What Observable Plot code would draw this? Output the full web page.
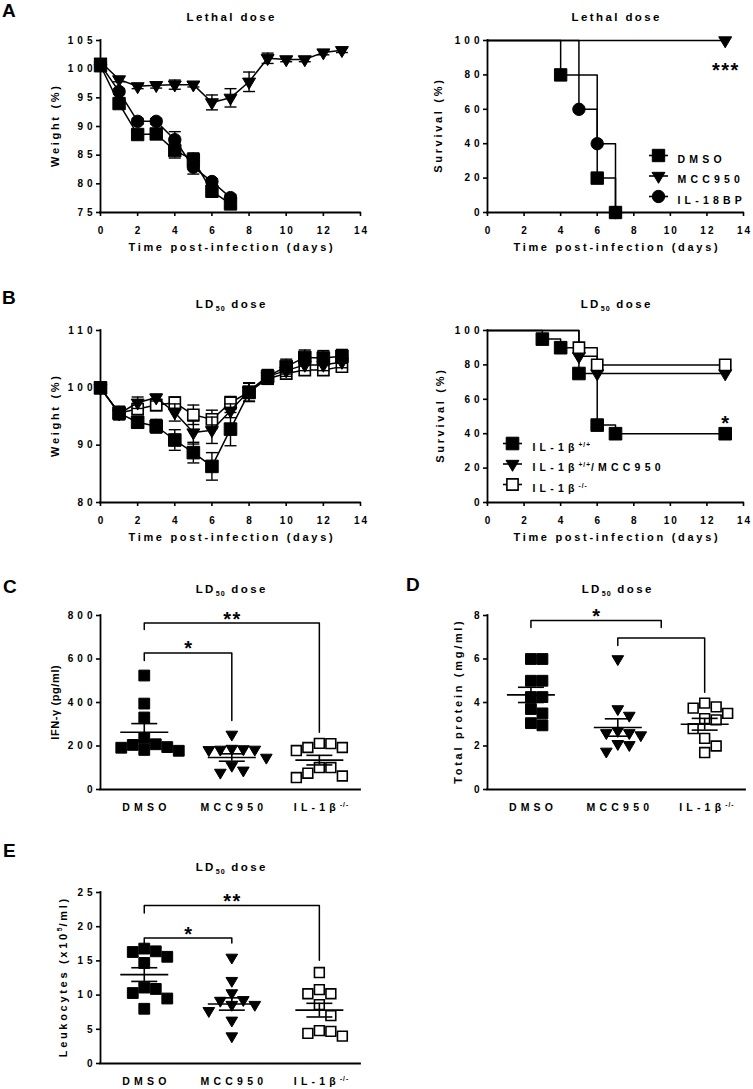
<!DOCTYPE html>
<html><head><meta charset="utf-8">
<script src="https://cdn.jsdelivr.net/npm/d3@7"></script>
<script src="https://cdn.jsdelivr.net/npm/@observablehq/plot@0.6"></script>
<style>
body{margin:0;background:#fff;}
#fig{position:relative;width:753px;height:1089px;background:#fff;overflow:hidden;}
.panel{position:absolute;}
.letter{position:absolute;font:bold 19px "Liberation Sans",Arial,Helvetica,sans-serif;line-height:1;color:#000;}
</style></head><body><div id="fig"></div>
<script>
// ================= DATA =================
const dayTicks = [0,2,4,6,8,10,12,14];
// Panel A – lethal dose, weight (%)
const aDaysDMSO = [0,1,2,3,4,5,6,7];
const aWeightDMSO = [100.6,94.0,88.6,88.7,85.8,84.2,78.7,76.5];
const aErrDMSO = [0.4,0.5,0.5,0.5,1.3,1.2,0.6,0.5];
const aDaysIL18BP = [0,1,2,3,4,5,6,7];
const aWeightIL18BP = [100.8,96.1,90.9,90.9,87.7,82.9,80.4,77.6];
const aErrIL18BP = [0.4,0.5,0.5,0.5,1.4,1.2,0.5,0.5];
const aDaysMCC950 = [0,1,2,3,4,5,6,7,8,9,10,11,12,13];
const aWeightMCC950 = [101.3,98.2,97.0,97.2,97.3,97.3,94.2,95.0,97.8,101.9,101.7,101.7,102.9,103.3];
const aErrMCC950 = [0.5,0.4,0.4,0.5,0.8,0.4,1.3,1.6,1.7,0.9,0.4,0.4,0.4,0.4];
// Panel A – survival (%)
const aSurvDaysDMSO = [0,4,6,7],  aSurvDMSO = [100,80,20,0];
const aSurvDaysMCC950 = [0,13],   aSurvMCC950 = [100,100];
const aSurvDaysIL18BP = [0,5,6,7], aSurvIL18BP = [100,60,40,0];
const aSurvSig = [{day:13, pct:85.5, label:"***"}];
const aLegend = ["DMSO","MCC950","IL-18BP"];
// Panel B – LD50, weight (%)
const bDays = [0,1,2,3,4,5,6,7,8,9,10,11,12,13];
const bWeightWT  = [100,95.6,94.0,93.3,90.9,88.7,86.3,92.8,99.2,102.0,103.7,105.3,105.2,105.5];
const bErrWT     = [0.5,1.2,0.9,1.2,1.8,1.8,2.4,2.9,1.6,1.2,1.3,1.3,1.3,1.2];
const bWeightMCC = [100,95.5,97.4,98.3,95.7,92.2,92.6,96.0,99.5,102.0,103.0,104.0,104.0,104.5];
const bErrMCC    = [0.5,1.0,1.0,0.6,1.5,2.0,2.3,1.2,1.3,1.0,1.0,1.0,1.0,1.0];
const bWeightKO  = [100,95.6,96.3,97.0,97.4,95.3,94.5,97.4,99.3,101.6,102.5,103.1,103.1,103.7];
const bErrKO     = [0.5,0.8,0.8,1.0,1.0,1.7,1.6,1.1,1.6,1.0,0.9,0.9,0.9,0.9];
// Panel B – survival (%)
const bSurvDaysWT = [0,3,4,5,6,7,13],  bSurvWT = [100,95,90,75,45,40,40];
const bSurvDaysMCC = [0,5,6,13],       bSurvMCC = [100,85,75,75];
const bSurvDaysKO = [0,5,6,13],        bSurvKO = [100,90,80,80];
const bSurvSig = [{day:13, pct:48.5, label:"*"}];
const bLegend = ["IL-1β^{+/+}","IL-1β^{+/+}/MCC950","IL-1β^{-/-}"];
// Panels C–E – groups
const groups = ["DMSO","MCC950","IL-1β^{-/-}"];
// C – IFN-γ (pg/ml)
const cDMSO = [524,395,331,235,205,195,182,178,192,208];
const cMCC  = [253,184,184,186,182,188,147,110,78,88];
const cKO   = [212,193,179,193,211,101,55,101,62,75];
const cMean = [263,147,135], cSem = [40,17,22];
const cBrackets = [{from:0,to:2,top:765,leftEnd:736,rightEnd:263,label:"**"},
                   {from:0,to:1,top:628,leftEnd:593,rightEnd:317,label:"*"}];
// D – total protein (mg/ml)
const dDMSO = [6.0,6.0,5.0,5.0,4.25,4.25,3.7,3.5,2.95,3.05];
const dMCC  = [6.0,3.7,3.4,2.7,2.6,2.5,2.6,2.05,1.75,2.1];
const dKO   = [3.97,3.5,3.74,3.8,3.2,3.26,2.8,2.35,2.0,1.7];
const dMean = [4.35,2.85,3.0], dSem = [0.35,0.4,0.27];
const dBrackets = [{from:0,to:1.5,top:7.77,leftEnd:7.45,rightEnd:7.45,label:"*"},
                   {from:1,to:2,top:6.97,leftEnd:6.62,rightEnd:4.47,label:""}];
// E – leukocytes (x10^5/ml)
const eDMSO = [16.8,16.3,15.6,16.4,14.7,10.9,11.1,10.3,9.5,8.0];
const eMCC  = [15.5,12.1,9.2,10.3,9.3,8.6,8.6,7.7,6.3,4.0];
const eKO   = [13.3,10.8,10.2,10.2,8.6,7.0,4.7,4.0,4.4,4.8];
const eMean = [13.0,8.7,7.8], eSem = [1.0,0.9,1.0];
const eBrackets = [{from:0,to:2,top:23.1,leftEnd:22.0,rightEnd:15.1,label:"**"},
                   {from:0,to:1,top:18.33,leftEnd:17.5,rightEnd:17.6,label:"*"}];

// ================= HELPERS =================
const fig = document.getElementById("fig");
const FONT = '"Liberation Sans", Arial, Helvetica, sans-serif';
const rr = s => Math.sqrt(s/Math.PI);
const SQUARE = {draw(c,s){const r=rr(s); c.moveTo(-r,-r); c.lineTo(r,-r); c.lineTo(r,r); c.lineTo(-r,r); c.closePath();}};
const TRI = {draw(c,s){const r=rr(s), hw=1.08*r, h=1.83*r; c.moveTo(-hw,-h/3); c.lineTo(hw,-h/3); c.lineTo(0,2*h/3); c.closePath();}};
const HLINE = {draw(c,s){const r=rr(s); c.moveTo(-r,0); c.lineTo(r,0);}};
const ST = {
  fsq:{symbol:SQUARE, fill:"black", stroke:"black", strokeWidth:1},
  tri:{symbol:TRI, fill:"black", stroke:"black", strokeWidth:1},
  circ:{symbol:"circle", fill:"black", stroke:"black", strokeWidth:1},
  osq:{symbol:SQUARE, fill:"white", stroke:"black", strokeWidth:1.6}
};
const BLACK = {stroke:"black", fill:"none"};

// text roles (matched by content for styling)
const TITLES = new Set(["Lethal dose","LD_{50} dose"]);
const XLABELS = new Set(["Time post-infection (days)"]);
const LEGENDS = new Set([...aLegend, ...bLegend]);

function addLetter(ch, left, top){
  const d=document.createElement("div"); d.className="letter"; d.textContent=ch;
  d.style.left=left+"px"; d.style.top=top+"px"; fig.appendChild(d);
}

function rich(svg){
  svg.querySelectorAll("text").forEach(t=>{
    const s=t.textContent; if(!/[\^_]\{/.test(s)) return;
    const fs=parseFloat(getComputedStyle(t).fontSize)||11;
    while(t.firstChild) t.removeChild(t.firstChild);
    const re=/([\^_])\{([^}]*)\}/g; let last=0, m, cur=0;
    const add=(str, off, small)=>{
      if(!str) return;
      const ts=document.createElementNS("http://www.w3.org/2000/svg","tspan");
      ts.textContent=str; const dy=off-cur; if(dy) ts.setAttribute("dy", dy); cur=off;
      if(small){ ts.style.fontSize=(fs*0.62)+"px"; ts.style.letterSpacing="1px"; }
      t.appendChild(ts);
    };
    while((m=re.exec(s))){
      add(s.slice(last,m.index),0,false);
      add(m[2], m[1]==="^" ? -0.42*fs : 0.28*fs, true);
      last=re.lastIndex;
    }
    add(s.slice(last),0,false);
  });
}

function post(svg, o){
  const sty=(t, fs, ls)=>{t.style.fontSize=fs+"px"; t.style.letterSpacing=ls+"px";};
  svg.querySelectorAll('g[aria-label="y-axis tick label"] text').forEach(t=>sty(t,10,4));
  svg.querySelectorAll('g[aria-label="x-axis tick label"] text').forEach(t=>sty(t, o.cat?10.5:10, o.cat?4.5:2));
  svg.querySelectorAll("text").forEach(t=>{
    const s=t.textContent;
    if(TITLES.has(s)) sty(t,11.5,2.4);
    else if(XLABELS.has(s)) sty(t,11,2.7);
    else if(s===o.yLabel) sty(t,11,o.ylabelLS ?? 2.7);
    else if(LEGENDS.has(s)) sty(t,10.5,4.2);
    else if(/^\*+$/.test(s)) sty(t,20,1.5);
  });
  rich(svg);
  svg.querySelectorAll("text").forEach(t=>{
    const cs=getComputedStyle(t); const ls=parseFloat(cs.letterSpacing)||0; if(!ls) return;
    const cur=parseFloat(t.getAttribute("dx"))||0;
    if(cs.textAnchor==="middle") t.setAttribute("dx", cur+ls/2);
    else if(cs.textAnchor==="end") t.setAttribute("dx", cur+ls);
  });
}

function panel(o){
  const base = [
    Plot.axisY({ticks:o.yTicks, tickSize:4, tickPadding:4, strokeWidth:1.6, label:null}),
    Plot.axisX({ticks:o.xTicks, tickFormat:o.xFormat, tickSize:o.cat?0:4, tickPadding:o.cat?14.4:10, strokeWidth:1.6, label:null}),
    Plot.ruleY([o.yDomain[0]], {strokeWidth:1.8, strokeLinecap:"square"}),
    Plot.ruleX([o.xDomain[0]], {strokeWidth:1.8, strokeLinecap:"square"}),
    Plot.text([o.title], {text:d=>d, frameAnchor:"top", textAnchor:"middle", dy:o.titleDy}),
    Plot.text([o.yLabel], {text:d=>d, frameAnchor:"left", textAnchor:"middle", rotate:-90, dx:o.yLabelDx})
  ];
  if(o.xLabel) base.push(Plot.text([o.xLabel], {text:d=>d, frameAnchor:"bottom", textAnchor:"middle", dy:38}));
  const svg = Plot.plot({
    width:o.W, height:o.H, marginLeft:o.L, marginRight:o.R, marginTop:o.T, marginBottom:o.B,
    x:{domain:o.xDomain, axis:null}, y:{domain:o.yDomain, axis:null},
    style:{fontFamily:FONT, fontWeight:"bold", fontSize:"10px", background:"transparent", overflow:"visible", maxWidth:"none", color:"black"},
    marks:[...base, ...o.marks]
  });
  const div=document.createElement("div"); div.className="panel";
  div.style.cssText=`left:${o.left}px;top:${o.top}px;width:${o.W}px;height:${o.H}px`;
  div.appendChild(svg); fig.appendChild(div);
  post(svg, o);
}

function weightMarks(series, mr){
  const m=[];
  for(const s of series){
    const rows=s.x.map((x,i)=>({x, y:s.y[i], e:s.e[i]}));
    m.push(Plot.ruleX(rows,{x:"x", y1:d=>d.y-d.e, y2:d=>d.y+d.e, stroke:"black", strokeWidth:1.4}));
    m.push(Plot.dot(rows,{x:"x", y:d=>d.y+d.e, symbol:HLINE, r:6, ...BLACK, strokeWidth:1.4}));
    m.push(Plot.dot(rows,{x:"x", y:d=>d.y-d.e, symbol:HLINE, r:6, ...BLACK, strokeWidth:1.4}));
    m.push(Plot.line(rows,{x:"x", y:"y", stroke:"black", strokeWidth:1.5}));
    m.push(Plot.dot(rows,{x:"x", y:"y", r:s.r ?? mr, ...s.st}));
  }
  return m;
}

function survMarks(series, mr){
  const all=series.map(s=>s.x.map((x,i)=>({x, y:s.y[i], i})));
  const m=all.map(rows=>Plot.line(rows,{x:"x", y:"y", curve:"step-after", stroke:"black", strokeWidth:1.5}));
  series.forEach((s,k)=>m.push(Plot.dot(all[k].filter(d=>d.i>0),{x:"x", y:"y", r:s.r ?? mr, ...s.st})));
  return m;
}

function legendMarks(labels, styles, dx0, dy0, gap, tdx, mr){
  return labels.flatMap((lab,i)=>[
    Plot.dot([lab],{frameAnchor:"top-left", dx:dx0, dy:dy0+i*gap, symbol:HLINE, r:9.5, ...BLACK, strokeWidth:1.6}),
    Plot.dot([lab],{frameAnchor:"top-left", dx:dx0, dy:dy0+i*gap, r:styles[i].r ?? mr, ...styles[i].st}),
    Plot.text([lab],{frameAnchor:"top-left", dx:tdx, dy:dy0+i*gap, text:d=>d, textAnchor:"start"})
  ]);
}

function dodge(vals, pxY, size){
  const order=d3.range(vals.length).sort((a,b)=>vals[b]-vals[a]);
  const placed=[], off=new Array(vals.length);
  for(const i of order){
    const y=vals[i]*pxY;
    for(let k=0;k<60;k++){
      const c=k===0?0:(k%2?1:-1)*Math.ceil(k/2)*size/2;
      if(placed.every(p=>Math.abs(p.x-c)>=size-0.01 || Math.abs(p.y-y)>=size-0.01)){off[i]=c; placed.push({x:c,y}); break;}
    }
  }
  return off;
}

function catMarks(o){
  const pxX=o.plotW/(o.xDomain[1]-o.xDomain[0]), pxY=o.plotH/(o.yDomain[1]-o.yDomain[0]);
  const m=[];
  const bRows=o.brackets.flatMap((b,k)=>[{k,x:b.from,y:b.leftEnd},{k,x:b.from,y:b.top},{k,x:b.to,y:b.top},{k,x:b.to,y:b.rightEnd}]);
  m.push(Plot.line(bRows,{x:"x", y:"y", z:"k", stroke:"black", strokeWidth:1.5}));
  m.push(Plot.text(o.brackets.filter(b=>b.label),{x:b=>(b.from+b.to)/2, y:"top", text:"label", dy:o.starDy}));
  o.sets.forEach((vals,i)=>{
    const off=dodge(vals,pxY,11.5);
    const rows=vals.map((v,j)=>({x:i+off[j]/pxX, y:v}));
    m.push(Plot.dot(rows,{x:"x", y:"y", r:o.styles[i].r ?? 5.4, ...o.styles[i].st}));
  });
  const mr=o.mean.map((v,i)=>({i, m:v, s:o.sem[i]}));
  m.push(Plot.ruleX(mr,{x:"i", y1:d=>d.m-d.s, y2:d=>d.m+d.s, stroke:"black", strokeWidth:1.6}));
  m.push(Plot.dot(mr,{x:"i", y:d=>d.m+d.s, symbol:HLINE, r:13, ...BLACK, strokeWidth:1.6}));
  m.push(Plot.dot(mr,{x:"i", y:d=>d.m-d.s, symbol:HLINE, r:13, ...BLACK, strokeWidth:1.6}));
  m.push(Plot.dot(mr,{x:"i", y:"m", symbol:HLINE, r:24, ...BLACK, strokeWidth:1.6}));
  return m;
}

// ================= PANELS =================
const catDomain=[-0.5,2.47];
const catStyles=[{st:ST.fsq},{st:ST.tri, r:5.4},{st:ST.osq, r:4.9}];

// A left
panel({left:0, top:0, W:380, H:262, L:100, R:20, T:40, B:50, xDomain:[0,14], yDomain:[75,105],
  xTicks:dayTicks, yTicks:[75,80,85,90,95,100,105], title:"Lethal dose", titleDy:-28,
  xLabel:"Time post-infection (days)", yLabel:"Weight (%)", yLabelDx:-45,
  marks:weightMarks([
    {x:aDaysMCC950, y:aWeightMCC950, e:aErrMCC950, st:ST.tri, r:6},
    {x:aDaysIL18BP, y:aWeightIL18BP, e:aErrIL18BP, st:ST.circ},
    {x:aDaysDMSO, y:aWeightDMSO, e:aErrDMSO, st:ST.fsq}
  ], 6.2)});

// A right
panel({left:380, top:0, W:373, H:262, L:107, R:10, T:40, B:50, xDomain:[0,14], yDomain:[0,100],
  xTicks:dayTicks, yTicks:[0,20,40,60,80,100], title:"Lethal dose", titleDy:-28,
  xLabel:"Time post-infection (days)", yLabel:"Survival (%)", yLabelDx:-49,
  marks:[
    ...survMarks([
      {x:aSurvDaysIL18BP, y:aSurvIL18BP, st:ST.circ},
      {x:aSurvDaysMCC950, y:aSurvMCC950, st:ST.tri, r:6},
      {x:aSurvDaysDMSO, y:aSurvDMSO, st:ST.fsq}
    ], 6.2),
    Plot.text(aSurvSig,{x:"day", y:"pct", text:"label", dy:5}),
    ...legendMarks(aLegend, [{st:ST.fsq},{st:ST.tri, r:6},{st:ST.circ}], 171, 115, 20.5, 190, 6.2)
  ]});

// B left
panel({left:0, top:262, W:380, H:290, L:100, R:20, T:68, B:50, xDomain:[0,14], yDomain:[80,110],
  xTicks:dayTicks, yTicks:[80,90,100,110], title:"LD_{50} dose", titleDy:-31,
  xLabel:"Time post-infection (days)", yLabel:"Weight (%)", yLabelDx:-45,
  marks:weightMarks([
    {x:bDays, y:bWeightKO, e:bErrKO, st:ST.osq, r:5.6},
    {x:bDays, y:bWeightMCC, e:bErrMCC, st:ST.tri, r:6},
    {x:bDays, y:bWeightWT, e:bErrWT, st:ST.fsq}
  ], 6.3)});

// B right
panel({left:380, top:262, W:373, H:290, L:107, R:10, T:68, B:50, xDomain:[0,14], yDomain:[0,100],
  xTicks:dayTicks, yTicks:[0,20,40,60,80,100], title:"LD_{50} dose", titleDy:-31,
  xLabel:"Time post-infection (days)", yLabel:"Survival (%)", yLabelDx:-47,
  marks:[
    ...survMarks([
      {x:bSurvDaysWT, y:bSurvWT, st:ST.fsq},
      {x:bSurvDaysMCC, y:bSurvMCC, st:ST.tri, r:6},
      {x:bSurvDaysKO, y:bSurvKO, st:ST.osq, r:5.6}
    ], 6.3),
    Plot.text(bSurvSig,{x:"day", y:"pct", text:"label", dy:5}),
    ...legendMarks(bLegend, [{st:ST.fsq},{st:ST.tri, r:6},{st:ST.osq, r:5.6}], 25, 113, 20.5, 45, 6.3)
  ]});

// C
panel({left:0, top:552, W:380, H:262, L:100, R:20, T:63, B:25, xDomain:catDomain, yDomain:[0,800], cat:true,
  xTicks:[0,1,2], xFormat:i=>groups[i], yTicks:[0,200,400,600,800], title:"LD_{50} dose", titleDy:-31,
  yLabel:"IFN-γ (pg/ml)", yLabelDx:-45, ylabelLS:0.6,
  marks:catMarks({plotW:260, plotH:174, xDomain:catDomain, yDomain:[0,800], sets:[cDMSO,cMCC,cKO],
    styles:catStyles, mean:cMean, sem:cSem, brackets:cBrackets, starDy:-4})});

// D
panel({left:380, top:552, W:373, H:262, L:107, R:8, T:63, B:25, xDomain:catDomain, yDomain:[0,8], cat:true,
  xTicks:[0,1,2], xFormat:i=>groups[i], yTicks:[0,2,4,6,8], title:"LD_{50} dose", titleDy:-31,
  yLabel:"Total protein (mg/ml)", yLabelDx:-29,
  marks:catMarks({plotW:258, plotH:174, xDomain:catDomain, yDomain:[0,8], sets:[dDMSO,dMCC,dKO],
    styles:catStyles, mean:dMean, sem:dSem, brackets:dBrackets, starDy:-3.5})});

// E
panel({left:0, top:830, W:380, H:259, L:100, R:20, T:62, B:26, xDomain:catDomain, yDomain:[0,25], cat:true,
  xTicks:[0,1,2], xFormat:i=>groups[i], yTicks:[0,5,10,15,20,25], title:"LD_{50} dose", titleDy:-30,
  yLabel:"Leukocytes (x10^{5}/ml)", yLabelDx:-37,
  marks:catMarks({plotW:260, plotH:171, xDomain:catDomain, yDomain:[0,25], sets:[eDMSO,eMCC,eKO],
    styles:catStyles, mean:eMean, sem:eSem, brackets:eBrackets, starDy:-4})});

addLetter("A",2,0.5);
addLetter("B",2,287.5);
addLetter("C",3,576.5);
addLetter("D",406,574.5);
addLetter("E",3,840.5);
</script></body></html>
